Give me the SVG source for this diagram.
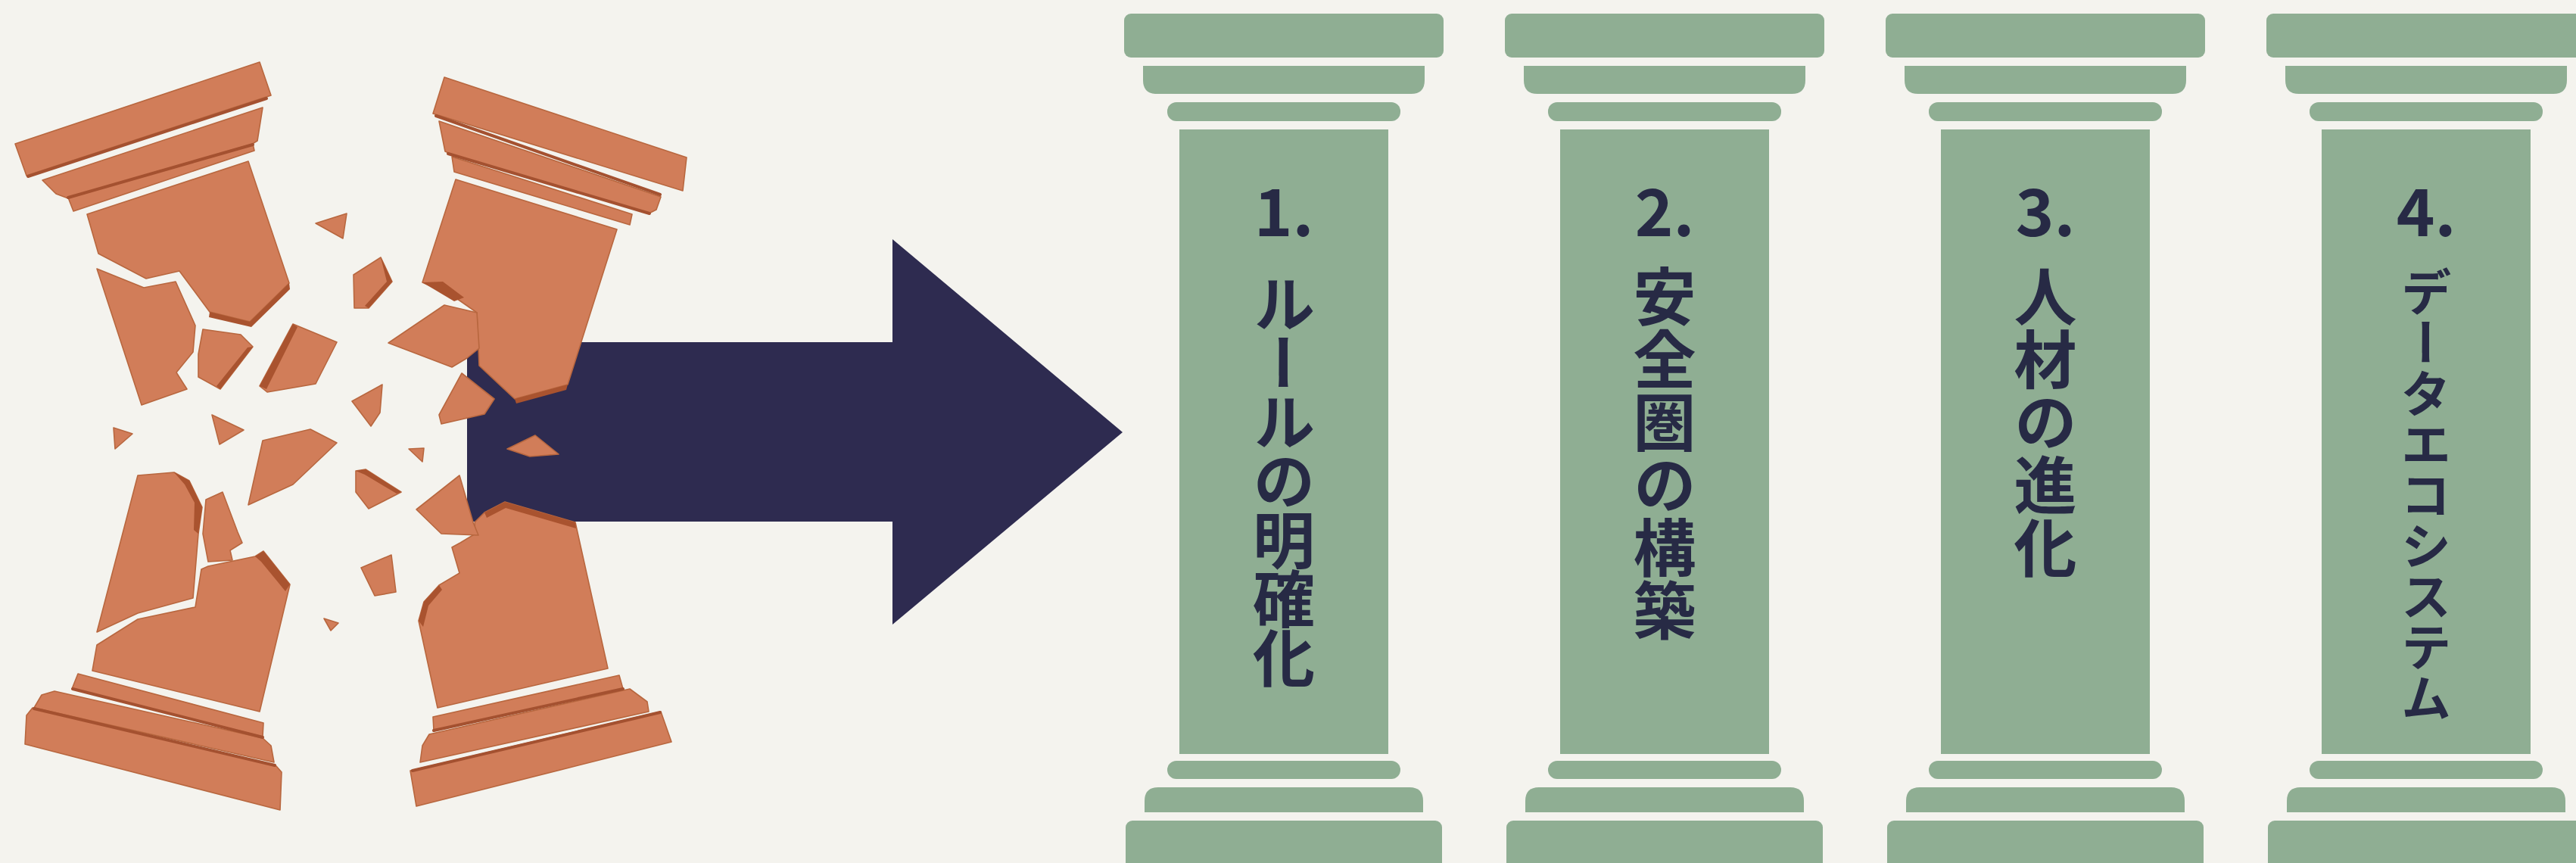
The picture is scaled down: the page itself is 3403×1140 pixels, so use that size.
<svg xmlns="http://www.w3.org/2000/svg" xmlns:xlink="http://www.w3.org/1999/xlink" width="3403" height="1140" viewBox="0 0 3403 1140">
  <style>
    .tc { fill: #d17d59; stroke: #b8673f; stroke-width: 1.6; stroke-linejoin: round; }
    .tcd { fill: #a9532f; stroke: none; }
    .tcl { fill: none; stroke: #a45130; stroke-width: 4; stroke-linecap: round; }
    .green { fill: #8fae93; }
    .num { font-family: "Noto Sans CJK JP", "Noto Sans", sans-serif; font-weight: 700; fill: #272a45; text-anchor: middle; }
    .vt { font-family: "Noto Sans CJK JP", sans-serif; font-weight: 700; fill: #272a45; writing-mode: vertical-rl; }
  </style>
  <defs>
    <!-- classical pillar, centred on x = 0 -->
    <g id="greenPillar" class="green">
      <rect x="-211" y="18" width="422" height="58" rx="9"/>
      <path d="M-186,87 H186 V106 Q186,124 168,124 H-168 Q-186,124 -186,106 Z"/>
      <rect x="-154" y="135" width="308" height="25" rx="12"/>
      <rect x="-138" y="171" width="276" height="825"/>
      <rect x="-154" y="1005" width="308" height="24" rx="12"/>
      <path d="M-184,1073 V1058 Q-184,1040 -166,1040 H166 Q184,1040 184,1058 V1073 Z"/>
      <rect x="-209" y="1084" width="418" height="70" rx="9"/>
    </g>
  </defs>

  <rect width="3403" height="1140" fill="#f4f3ee"/>

  <!-- connector: the big arrow -->
  <g id="connectors">
    <polygon points="617,452 1179,452 1179,316 1483,571 1179,825 1179,689 617,689" fill="#2e2b50"/>
  </g>

  <!-- broken pillar, left -->
  <g id="broken-left">
    <!-- capital -->
    <polygon class="tc" points="20,190 343,82 358,126 35,232"/>
    <polygon class="tc" points="56,238 347,142 340,186 330,192 90,262 74,256"/>
    <line class="tcl" x1="37" y1="233" x2="352" y2="130"/>
    <polygon class="tc" points="90,261 334,190 336,199 97,279"/>
    <line class="tcl" x1="90" y1="261" x2="334" y2="191"/>
    <!-- upper shaft -->
    <polygon class="tc" points="115,283 328,213 382,374 330,425 277,412 237,358 193,368 130,335"/>
    <polygon class="tcd" points="277,412 330,425 382,374 383,382 332,432 276,419"/>
    <polygon class="tc" points="128,355 190,380 232,372 258,430 255,465 233,492 247,514 187,535"/>
    <polygon class="tc" points="268,435 318,442 334,458 291,514 262,498 262,468"/>
    <polygon class="tcd" points="334,458 291,514 286,510 327,459"/>
    <!-- lower shaft and base -->
    <polygon class="tc" points="182,628 230,624 250,635 267,670 262,705 255,790 182,810 128,835"/>
    <polygon class="tcd" points="230,624 250,635 267,670 262,705 256,700 257,664 244,640"/>
    <polygon class="tc" points="272,660 294,650 314,703 320,717 304,727 307,740 275,742 268,705"/>
    <polygon class="tc" points="275,748 337,735 348,728 383,772 343,940 122,886 128,852 182,818 258,802 266,752"/>
    <polygon class="tcd" points="337,735 348,728 383,772 377,781 345,742"/>
    <polygon class="tc" points="103,890 348,955 347,973 95,910"/>
    <polygon class="tc" points="72,913 347,975 358,985 362,1007 45,935 55,918"/>
    <line class="tcl" x1="96" y1="910" x2="347" y2="974"/>
    <polygon class="tc" points="43,935 365,1012 372,1020 370,1070 33,983 35,945"/>
    <line class="tcl" x1="45" y1="936" x2="363" y2="1011"/>
  </g>

  <!-- broken pillar, right -->
  <g id="broken-right">
    <!-- capital -->
    <polygon class="tc" points="587,102 907,208 902,252 572,150"/>
    <polygon class="tc" points="580,160 873,260 867,277 857,282 600,205 588,200"/>
    <line class="tcl" x1="576" y1="153" x2="872" y2="257"/>
    <polygon class="tc" points="597,207 835,283 832,297 600,227"/>
    <line class="tcl" x1="592" y1="203" x2="858" y2="282"/>
    <!-- upper shaft -->
    <polygon class="tc" points="602,237 815,303 750,508 680,527 633,483 630,413 600,392 558,373"/>
    <polygon class="tcd" points="558,373 585,372 613,393 600,398"/>
    <polygon class="tcd" points="680,527 750,508 748,515 682,533"/>
    <polygon class="tc" points="513,453 587,403 630,413 633,460 617,473 597,485"/>
    <!-- lower shaft and base -->
    <polygon class="tc" points="627,690 640,677 667,663 760,690 803,883 578,935 553,820 560,795 580,773 607,757 597,723 608,717 628,705"/>
    <polygon class="tcd" points="640,677 667,663 760,690 761,698 668,671 643,684"/>
    <polygon class="tcd" points="553,820 560,795 580,773 584,779 566,800 559,828"/>
    <polygon class="tc" points="572,947 818,892 823,910 573,965"/>
    <polygon class="tc" points="567,970 832,910 855,927 857,940 555,1007 558,985"/>
    <line class="tcl" x1="573" y1="965" x2="823" y2="910"/>
    <polygon class="tc" points="542,1018 873,940 887,980 550,1065"/>
    <line class="tcl" x1="545" y1="1018" x2="872" y2="941"/>
  </g>

  <!-- flying fragments -->
  <g id="fragments">
    <polygon class="tc" points="387,428 445,452 417,507 353,518 343,510"/>
    <polygon class="tcd" points="387,428 393,432 352,514 343,510"/>
    <polygon class="tc" points="417,295 458,282 453,315"/>
    <polygon class="tc" points="467,363 503,340 518,372 487,407 468,407"/>
    <polygon class="tcd" points="503,340 518,372 487,407 482,404 511,372"/>
    <polygon class="tc" points="465,530 505,508 502,545 490,563"/>
    <polygon class="tc" points="280,548 322,568 290,587"/>
    <polygon class="tc" points="150,565 175,573 152,593"/>
    <polygon class="tc" points="347,582 410,567 445,585 387,640 328,667"/>
    <polygon class="tc" points="540,593 560,592 558,610"/>
    <polygon class="tc" points="470,622 483,620 530,650 487,672 470,650"/>
    <polygon class="tcd" points="470,622 483,620 530,650 524,652 482,627"/>
    <polygon class="tc" points="550,673 607,628 625,690 632,707 583,705"/>
    <polygon class="tc" points="477,750 517,733 523,782 495,787"/>
    <polygon class="tc" points="428,817 447,823 437,833"/>
    <polygon class="tc" points="580,548 610,493 653,527 640,547 583,560"/>
    <polygon class="tc" points="670,593 707,575 738,600 700,603"/>
  </g>

  <!-- four green pillars -->
  <g id="pillar-1">
    <use xlink:href="#greenPillar" href="#greenPillar" x="1696"/>
    <text class="num" x="1696" y="312" font-size="86">1.</text>
    <text class="vt" x="1696" y="360" font-size="82" letter-spacing="-4">ルールの明確化</text>
  </g>
  <g id="pillar-2">
    <use xlink:href="#greenPillar" href="#greenPillar" x="2199"/>
    <text class="num" x="2199" y="312" font-size="86">2.</text>
    <text class="vt" x="2199" y="350" font-size="83">安全圏の構築</text>
  </g>
  <g id="pillar-3">
    <use xlink:href="#greenPillar" href="#greenPillar" x="2702"/>
    <text class="num" x="2702" y="312" font-size="86">3.</text>
    <text class="vt" x="2702" y="350" font-size="83">人材の進化</text>
  </g>
  <g id="pillar-4">
    <use xlink:href="#greenPillar" href="#greenPillar" x="3205"/>
    <text class="num" x="3205" y="312" font-size="86">4.</text>
    <text class="vt" x="3205" y="352" font-size="67">データエコシステム</text>
  </g>
</svg>
